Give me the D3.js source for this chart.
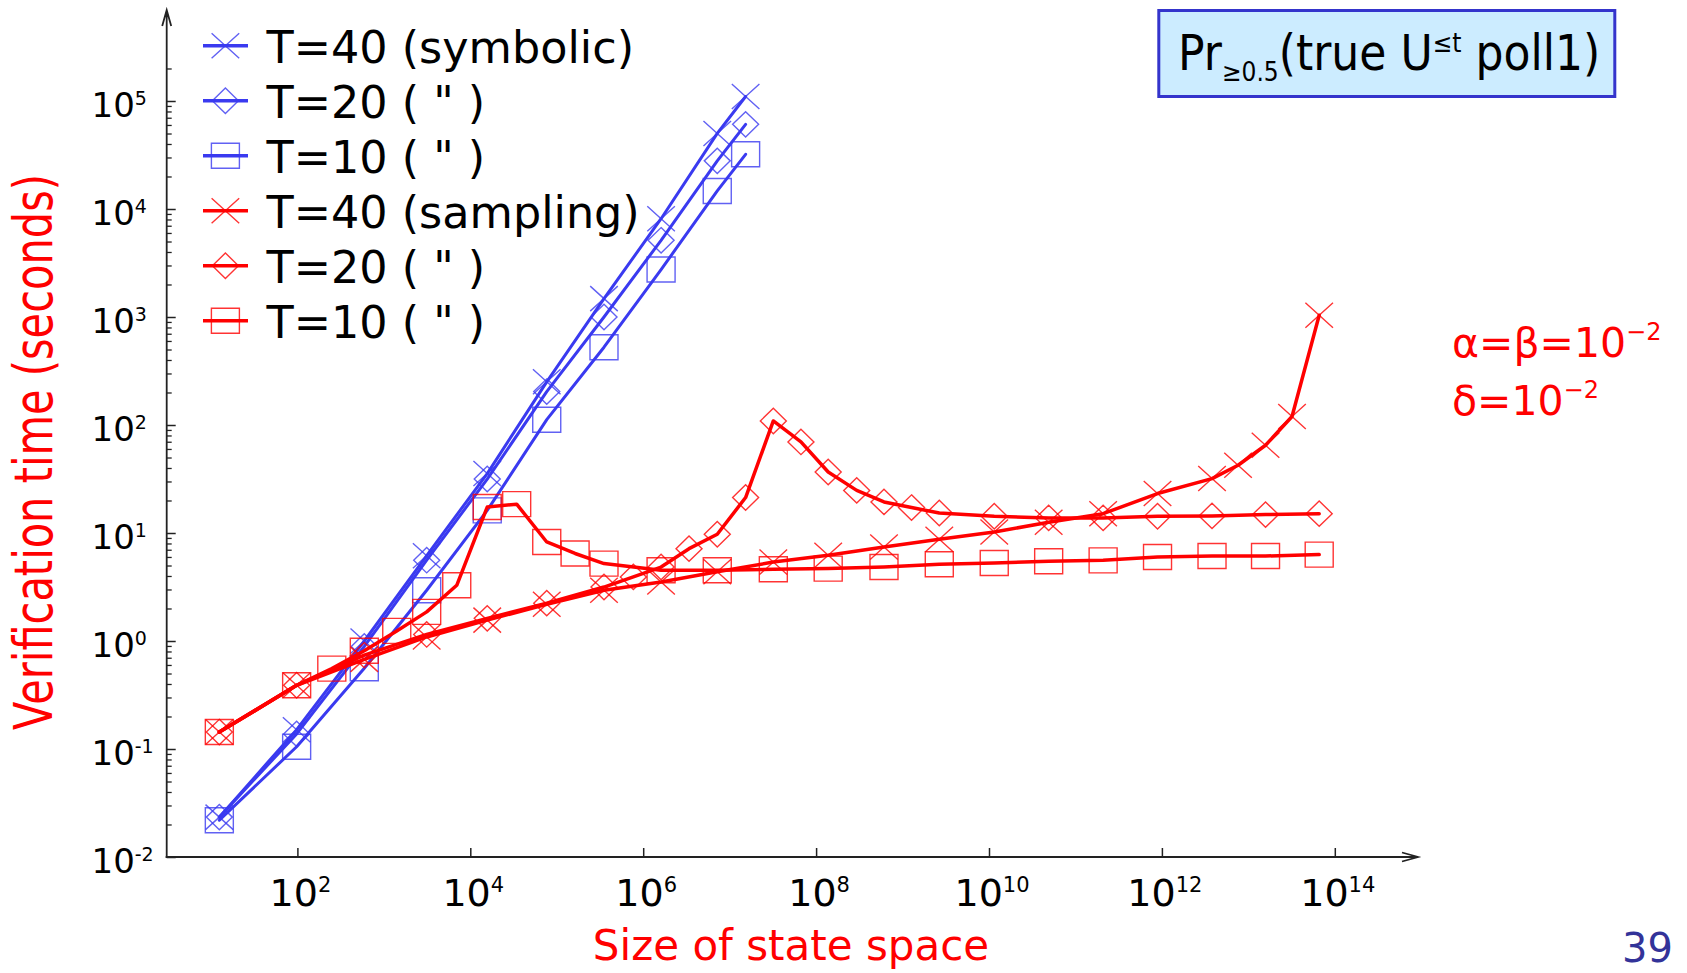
<!DOCTYPE html>
<html>
<head>
<meta charset="utf-8">
<script src="https://cdn.jsdelivr.net/npm/d3@7.9.0/dist/d3.min.js"></script>
<style>
  html, body { margin: 0; padding: 0; background: #fff; overflow: hidden; }
  svg { display: block; font-family: "DejaVu Sans", Verdana, sans-serif; }
</style>
</head>
<body>
<svg id="chart" width="1687" height="973"></svg>
<script>
// symbolic engine: state space size vs verification time (s)
const symSizes = [12.5, 98, 594, 3130, 1.57e4, 7.66e4, 3.52e5, 1.61e6, 7.19e6, 1.53e7];
const symT40 = [0.0234, 0.151, 1.0, 6.17, 35.5, 251, 1480, 8130, 50100, 110000];
const symT20 = [0.0234, 0.138, 0.89, 5.6, 31.6, 204, 1000, 5130, 27900, 60800];
const symT10 = [0.0219, 0.105, 0.56, 2.95, 16.2, 112, 525, 2750, 14700, 32100];

// sampling engine
const smpT40Sizes = [12.5, 98, 594, 3130, 1.57e4, 7.66e4, 3.52e5, 1.61e6, 7.19e6, 3.2e7, 1.38e8,
  6.1e8, 2.66e9, 1.15e10, 4.9e10, 2.09e11, 8.9e11, 3.8e12, 7.6e12, 1.58e13, 3.2e13, 6.6e13];
const smpT40 = [0.1435, 0.389, 0.676, 1.09, 1.56, 2.19, 2.95, 3.52, 4.37, 5.38, 6.21,
  7.41, 8.75, 10.2, 12.6, 15.1, 23.2, 31.9, 42.4, 64.9, 120, 1038];

const smpT20Sizes = [12.5, 98, 594, 3130, 1.57e4, 7.66e4, 3.52e5, 7.69e5, 1.61e6, 3.39e6, 7.19e6,
  1.53e7, 3.2e7, 6.68e7, 1.38e8, 2.95e8, 6.1e8, 1.27e9, 2.66e9, 1.15e10, 4.9e10, 2.09e11,
  8.9e11, 3.8e12, 1.58e13, 6.6e13];
const smpT20 = [0.1435, 0.389, 0.74, 1.15, 1.62, 2.24, 3.16, 3.92, 4.84, 7.16, 9.73,
  21.3, 109, 69.7, 36.7, 24.8, 19.4, 17.2, 15.3, 14.3, 13.8, 13.8,
  14.3, 14.4, 14.8, 15.1];

const smpT10Sizes = [12.5, 98, 250, 594, 1410, 3130, 6970, 1.57e4, 3.44e4, 7.66e4, 1.63e5,
  3.52e5, 1.61e6, 7.19e6, 3.2e7, 1.38e8, 6.1e8, 2.66e9, 1.15e10, 4.9e10, 2.09e11, 8.9e11,
  3.8e12, 1.58e13, 6.6e13];
const smpT10 = [0.1435, 0.389, 0.555, 0.813, 1.24, 1.86, 3.28, 17.4, 18.5, 8.26, 6.46,
  5.21, 4.52, 4.52, 4.61, 4.68, 4.84, 5.13, 5.27, 5.47, 5.58, 6.0,
  6.12, 6.12, 6.31];

const xTicks = [1e2, 1e4, 1e6, 1e8, 1e10, 1e12, 1e14];
const xTickExp = ["2", "4", "6", "8", "10", "12", "14"];
const yTicks = [1e-2, 1e-1, 1e0, 1e1, 1e2, 1e3, 1e4, 1e5];
const yTickExp = ["-2", "-1", "0", "1", "2", "3", "4", "5"];

const legendLabels = ["T=40 (symbolic)", "T=20 ( \" )", "T=10 ( \" )",
  "T=40 (sampling)", "T=20 ( \" )", "T=10 ( \" )"];

const blue = "#3a3af0";
const red = "#ff0000";

const series = [
  { sizes: symSizes, times: symT40, color: blue, shape: "cross", width: 3 },
  { sizes: symSizes, times: symT20, color: blue, shape: "diamond", width: 3 },
  { sizes: symSizes, times: symT10, color: blue, shape: "square", width: 3 },
  { sizes: smpT40Sizes, times: smpT40, color: red, shape: "cross", width: 3.5 },
  { sizes: smpT20Sizes, times: smpT20, color: red, shape: "diamond", width: 3.5 },
  { sizes: smpT10Sizes, times: smpT10, color: red, shape: "square", width: 3.5 }
];

const markerPaths = {
  cross: "M-13.8,-12.5L13.8,12.5M-13.8,12.5L13.8,-12.5",
  diamond: "M0,-12.7L13,0L0,12.7L-13,0Z",
  square: "M-14,-12.5H14V12.5H-14Z"
};

const svg = d3.select("#chart");

const axisX0 = 166.7, axisY0 = 857;

const x = d3.scaleLog().domain([1, 1e14]).range([124.5, 1334.8]);
const y = d3.scaleLog().domain([1e-2, 1e5]).range([857, 101]);

// minor y ticks (2..9 per decade, up to 2e5)
const yMinor = [];
for (let e = -2; e <= 5; e++) {
  for (let m = 2; m <= 9; m++) {
    const v = m * Math.pow(10, e);
    if (v <= 2e5) yMinor.push(v);
  }
}

svg.append("g")
  .attr("transform", `translate(${axisX0},0)`)
  .attr("color", "#222")
  .call(d3.axisRight(y).tickValues(yMinor).tickSize(5).tickFormat(""))
  .call(g => g.select(".domain").remove())
  .call(g => g.selectAll("line").attr("stroke-width", 1.3));

svg.append("g")
  .attr("transform", `translate(${axisX0},0)`)
  .attr("color", "#222")
  .call(d3.axisRight(y).tickValues(yTicks).tickSize(9).tickFormat(""))
  .call(g => g.select(".domain").remove())
  .call(g => g.selectAll("line").attr("stroke-width", 1.5));

svg.append("g")
  .attr("transform", `translate(0,${axisY0})`)
  .attr("color", "#222")
  .call(d3.axisTop(x).tickValues(xTicks).tickSize(9).tickFormat(""))
  .call(g => g.select(".domain").remove())
  .call(g => g.selectAll("line").attr("stroke-width", 1.5));

// axis lines with open arrows
svg.append("path")
  .attr("d", `M${axisX0},${axisY0 + 1}V10M${axisX0 - 4.5},26L${axisX0},10L${axisX0 + 4.5},26`)
  .attr("fill", "none").attr("stroke", "#222").attr("stroke-width", 1.8);
svg.append("path")
  .attr("d", `M${axisX0 - 1},${axisY0}H1418M1402,${axisY0 - 4.5}L1418,${axisY0}L1402,${axisY0 + 4.5}`)
  .attr("fill", "none").attr("stroke", "#222").attr("stroke-width", 1.8);

// tick labels
yTicks.forEach((v, i) => {
  const t = svg.append("text")
    .attr("x", 91.5)
    .attr("y", y(v) + 16)
    .attr("font-size", 34)
    .attr("fill", "#000");
  t.append("tspan").text("10");
  t.append("tspan").attr("font-size", 19).attr("dy", -12).text(yTickExp[i]);
});

xTicks.forEach((v, i) => {
  const t = svg.append("text")
    .attr("x", x(v) + 3)
    .attr("y", 906)
    .attr("text-anchor", "middle")
    .attr("font-size", 38)
    .attr("fill", "#000");
  t.append("tspan").text("10");
  t.append("tspan").attr("font-size", 21).attr("dy", -14).text(xTickExp[i]);
});

// series
const line = d3.line().x(d => x(d.size)).y(d => y(d.time));

series.forEach(s => {
  const pts = s.sizes.map((size, i) => ({ size, time: s.times[i] }));
  svg.append("path")
    .datum(pts)
    .attr("d", line)
    .attr("fill", "none")
    .attr("stroke", s.color)
    .attr("stroke-width", s.width)
    .attr("stroke-linejoin", "round")
    .attr("stroke-linecap", "round");
  svg.append("g").selectAll("path")
    .data(pts)
    .join("path")
    .attr("transform", d => `translate(${x(d.size)},${y(d.time)})`)
    .attr("d", markerPaths[s.shape])
    .attr("fill", "none")
    .attr("stroke", s.color)
    .attr("stroke-opacity", 0.8)
    .attr("stroke-width", 1.4);
});

// legend
series.forEach((s, i) => {
  const ly = 45.7 + i * 55;
  const g = svg.append("g").attr("transform", `translate(0,${ly})`);
  g.append("line").attr("x1", 203).attr("x2", 248).attr("y1", 0).attr("y2", 0)
    .attr("stroke", s.color).attr("stroke-width", 3.6);
  g.append("path").attr("transform", "translate(225.4,0)")
    .attr("d", markerPaths[s.shape])
    .attr("fill", "none").attr("stroke", s.color)
    .attr("stroke-opacity", 0.8).attr("stroke-width", 1.4);
  g.append("text").attr("x", 266.5).attr("y", 17.6)
    .attr("font-size", 44.5).attr("fill", "#000")
    .text(legendLabels[i]);
});

// axis titles
svg.append("text")
  .attr("transform", "translate(52,452) rotate(-90)")
  .attr("text-anchor", "middle")
  .attr("font-size", 54)
  .attr("textLength", 556)
  .attr("lengthAdjust", "spacingAndGlyphs")
  .attr("fill", red)
  .text("Verification time (seconds)");

svg.append("text")
  .attr("x", 791).attr("y", 960)
  .attr("text-anchor", "middle")
  .attr("font-size", 42)
  .attr("fill", red)
  .text("Size of state space");

// property box
svg.append("rect")
  .attr("x", 1158.8).attr("y", 10.5)
  .attr("width", 456).attr("height", 86)
  .attr("fill", "#ccecff")
  .attr("stroke", "#3434cc")
  .attr("stroke-width", 3);

const title = svg.append("g")
  .attr("transform", "translate(1178,70) scale(0.9,1)")
  .append("text").attr("font-size", 49).attr("fill", "#000");
title.append("tspan").text("Pr");
title.append("tspan").attr("font-size", 26).attr("dy", 11).text("≥0.5");
title.append("tspan").attr("dy", -11).text("(true U");
title.append("tspan").attr("font-size", 26).attr("dy", -18).text("≤t");
title.append("tspan").attr("dy", 18).text(" poll1)");

// parameters
const p1 = svg.append("text").attr("x", 1452).attr("y", 357)
  .attr("font-size", 41).attr("fill", red);
p1.append("tspan").text("α=β=10");
p1.append("tspan").attr("font-size", 24).attr("dy", -17).text("−2");

const p2 = svg.append("text").attr("x", 1452).attr("y", 415)
  .attr("font-size", 41).attr("fill", red);
p2.append("tspan").text("δ=10");
p2.append("tspan").attr("font-size", 24).attr("dy", -17).text("−2");

// slide number
svg.append("text").attr("x", 1622).attr("y", 962)
  .attr("font-size", 40).attr("fill", "#333399")
  .text("39");
</script>
</body>
</html>
